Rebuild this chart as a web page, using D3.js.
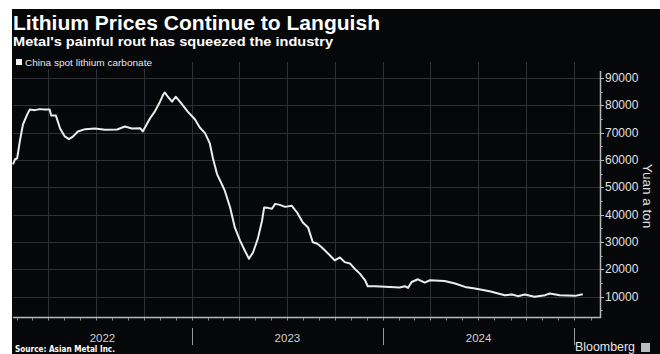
<!DOCTYPE html>
<html>
<head>
<meta charset="utf-8">
<script src="https://cdn.jsdelivr.net/npm/d3@7"></script>
<style>
  html, body { margin: 0; padding: 0; background: #ffffff; }
  svg { display: block; }
</style>
</head>
<body>
<svg id="chart" width="660" height="354"></svg>
<script>
// ---- data ----
const dates = [
  "2022-01-24","2022-01-28","2022-02-01","2022-02-06","2022-02-12","2022-02-20","2022-02-25",
  "2022-03-07","2022-03-16","2022-03-26","2022-04-04","2022-04-07","2022-04-16","2022-04-24",
  "2022-05-03","2022-05-11","2022-05-19","2022-05-28","2022-06-11","2022-06-30","2022-07-19",
  "2022-08-11","2022-08-26","2022-09-08","2022-09-24","2022-09-29","2022-10-13","2022-10-22",
  "2022-11-01","2022-11-07","2022-11-10","2022-11-16","2022-11-24","2022-12-01","2022-12-09",
  "2022-12-24","2023-01-07","2023-01-16","2023-01-26","2023-02-04","2023-02-10","2023-02-18",
  "2023-02-27","2023-03-05","2023-03-15","2023-03-24","2023-04-03","2023-04-12","2023-04-20",
  "2023-04-28","2023-05-07","2023-05-15","2023-05-19","2023-05-26","2023-06-03","2023-06-09",
  "2023-06-18","2023-06-28","2023-07-11","2023-07-21","2023-08-01","2023-08-11","2023-08-20",
  "2023-08-28","2023-09-06","2023-09-22","2023-10-01","2023-10-11","2023-10-20","2023-10-30",
  "2023-11-08","2023-11-18","2023-11-28","2023-12-03","2023-12-17","2024-01-05","2024-01-24",
  "2024-02-02","2024-02-12","2024-02-18","2024-02-25","2024-03-08","2024-03-21","2024-03-31",
  "2024-04-28","2024-05-18","2024-06-06","2024-06-25","2024-07-23","2024-08-21","2024-09-04",
  "2024-09-15","2024-09-28","2024-10-17","2024-11-06","2024-11-15","2024-12-04","2025-01-02",
  "2025-01-17"
];
const prices = [
  58400,60250,60600,66780,72950,76570,78390,
  78200,78570,78390,78390,76210,76210,71500,
  68590,67610,68590,70400,71240,71500,71020,
  71130,72220,71500,71600,70400,75230,77660,
  81290,83830,84660,83100,81290,83100,81290,
  77660,74760,71860,69790,66160,60720,54810,
  51180,48650,42580,35320,30500,26870,23860,
  26250,31220,37750,42580,42470,42110,43920,
  43560,42830,43200,40770,37140,35320,29880,
  29410,28070,25060,23250,24330,22630,22150,
  20230,18420,15990,13810,13810,13630,13450,
  13340,13810,13190,15370,16350,15150,15990,
  15730,14790,13560,12970,12000,10540,10800,
  10180,10800,9930,10540,11160,10540,10290,
  10910
];
const yTicks = [10000,20000,30000,40000,50000,60000,70000,80000,90000];
const yearLabels = ["2022","2023","2024"];
const seriesName = "China spot lithium carbonate";
const titleText = "Lithium Prices Continue to Languish";
const subtitleText = "Metal's painful rout has squeezed the industry";
const sourceText = "Source: Asian Metal Inc.";
const unitText = "Yuan a ton";

// ---- chart ----
(function () {
const W = 660, H = 354;
const svg = d3.select("#chart");
const parse = d3.utcParse("%Y-%m-%d");
const data = dates.map((d, i) => ({ date: parse(d), value: prices[i] }));

const bg = "#060709";
const pl = 13, pr = 600, pt = 62, pb = 317;

svg.append("rect").attr("x", 12).attr("y", 9).attr("width", W - 12).attr("height", H - 9).attr("fill", bg);

const x = d3.scaleUtc()
  .domain([new Date(Date.UTC(2022, 0, 24)), new Date(Date.UTC(2025, 1, 19))])
  .range([pl, pr]);
const y = d3.scaleLinear().domain([2560, 95800]).range([pb, pt]);

// grid
const grid = svg.append("g").attr("stroke", "#2e3035").attr("stroke-width", 1);
grid.selectAll("line.h").data(yTicks).join("line")
  .attr("x1", pl).attr("x2", pr)
  .attr("y1", d => Math.round(y(d)) + 0.5).attr("y2", d => Math.round(y(d)) + 0.5);
const quarters = d3.utcMonth.every(3).range(x.domain()[0], x.domain()[1]);
grid.selectAll("line.v").data(quarters).join("line")
  .attr("y1", pt).attr("y2", pb)
  .attr("x1", d => Math.round(x(d)) + 0.5).attr("x2", d => Math.round(x(d)) + 0.5);

// legend
const lg = svg.append("g");
lg.append("rect").attr("x", 13).attr("y", 56).attr("width", 143).attr("height", 13).attr("fill", bg);
lg.append("rect").attr("x", 16).attr("y", 59).attr("width", 6).attr("height", 6).attr("fill", "#f2f2f2");
lg.append("text").attr("x", 25).attr("y", 65.5)
  .attr("font-family", "Liberation Sans, Arial, sans-serif").attr("font-size", 9)
  .attr("fill", "#e6e6e6").attr("textLength", 127).attr("lengthAdjust", "spacingAndGlyphs")
  .text(seriesName);

// line
const line = d3.line().x(d => x(d.date)).y(d => y(d.value)).curve(d3.curveLinear);
svg.append("path").datum(data).attr("d", line)
  .attr("fill", "none").attr("stroke", "#ececec").attr("stroke-width", 2)
  .attr("stroke-linejoin", "round");

// bottom axis
const axisCol = "#b8b8b8";
svg.append("line").attr("x1", pl).attr("x2", pr + 1)
  .attr("y1", pb + 0.5).attr("y2", pb + 0.5)
  .attr("stroke", axisCol).attr("stroke-width", 1.5);
const months = d3.utcMonth.range(x.domain()[0], x.domain()[1]);
svg.append("g").selectAll("line").data(months).join("line")
  .attr("x1", d => Math.round(x(d)) + 0.5).attr("x2", d => Math.round(x(d)) + 0.5)
  .attr("y1", pb + 1).attr("y2", pb + 3.5)
  .attr("stroke", "#8a8a8a").attr("stroke-width", 1);
const years = d3.utcYear.range(x.domain()[0], x.domain()[1]);
svg.append("g").selectAll("line").data(years).join("line")
  .attr("x1", d => Math.round(x(d)) + 0.5).attr("x2", d => Math.round(x(d)) + 0.5)
  .attr("y1", 328).attr("y2", 345)
  .attr("stroke", "#9a9a9a").attr("stroke-width", 1);
const yearBounds = [x.domain()[0]].concat(years).concat([x.domain()[1]]);
svg.append("g").selectAll("text").data(yearLabels).join("text")
  .attr("x", (d, i) => (x(yearBounds[i]) + x(yearBounds[i + 1])) / 2)
  .attr("y", 342)
  .attr("text-anchor", "middle")
  .attr("font-family", "Liberation Sans, Arial, sans-serif").attr("font-size", 11.5)
  .attr("fill", "#d0d0d0")
  .text(d => d);

// right axis
svg.append("line").attr("x1", pr + 0.5).attr("x2", pr + 0.5)
  .attr("y1", 71).attr("y2", pb + 1)
  .attr("stroke", axisCol).attr("stroke-width", 1.5);
const minorY = d3.range(5000, 95000, 5000);
svg.append("g").selectAll("line").data(minorY).join("line")
  .attr("x1", pr + 1).attr("x2", d => pr + (d % 10000 === 0 ? 4 : 2.5))
  .attr("y1", d => Math.round(y(d)) + 0.5).attr("y2", d => Math.round(y(d)) + 0.5)
  .attr("stroke", axisCol).attr("stroke-width", 1);
svg.append("g").selectAll("text").data(yTicks).join("text")
  .attr("x", 605).attr("y", d => y(d) + 4)
  .attr("font-family", "Liberation Sans, Arial, sans-serif").attr("font-size", 12)
  .attr("fill", "#e0e0e0")
  .text(d => d);
svg.append("text")
  .attr("transform", "translate(643,196) rotate(90)")
  .attr("text-anchor", "middle")
  .attr("font-family", "Liberation Sans, Arial, sans-serif").attr("font-size", 13.5)
  .attr("fill", "#e0e0e0")
  .text(unitText);

// titles
svg.append("text").attr("x", 13).attr("y", 30)
  .attr("font-family", "Liberation Sans, Arial, sans-serif").attr("font-weight", "bold")
  .attr("font-size", 20).attr("fill", "#ffffff")
  .attr("textLength", 367).attr("lengthAdjust", "spacingAndGlyphs")
  .text(titleText);
svg.append("text").attr("x", 13).attr("y", 46)
  .attr("font-family", "Liberation Sans, Arial, sans-serif").attr("font-weight", "bold")
  .attr("font-size", 13.5).attr("fill", "#ffffff")
  .attr("textLength", 320).attr("lengthAdjust", "spacingAndGlyphs")
  .text(subtitleText);

// footer
svg.append("text").attr("x", 15).attr("y", 352)
  .attr("font-family", "DejaVu Sans, Verdana, sans-serif").attr("font-weight", "bold")
  .attr("font-size", 8.5).attr("fill", "#ffffff")
  .attr("textLength", 100).attr("lengthAdjust", "spacingAndGlyphs")
  .text(sourceText);
svg.append("text").attr("x", 575).attr("y", 350.5)
  .attr("font-family", "Liberation Sans, Arial, sans-serif")
  .attr("font-size", 12).attr("fill", "#e6e6e6")
  .attr("textLength", 60).attr("lengthAdjust", "spacingAndGlyphs")
  .text("Bloomberg");
svg.append("rect").attr("x", 641).attr("y", 343).attr("width", 9).attr("height", 9)
  .attr("fill", "#bdbdbd");
})();
</script>
</body>
</html>
